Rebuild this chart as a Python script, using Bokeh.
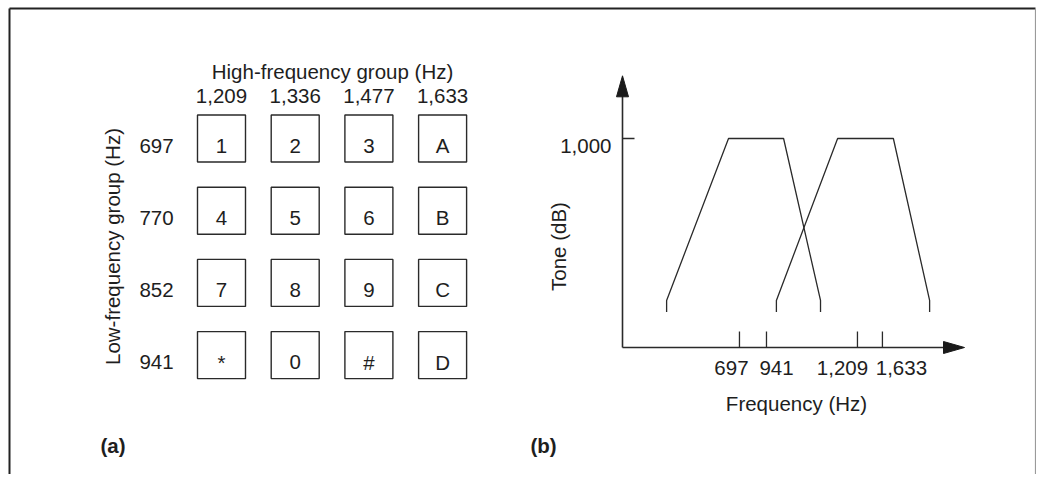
import math
from bokeh.plotting import figure
from bokeh.models import Range1d, ColumnDataSource
from bokeh.embed import file_html
from bokeh.resources import INLINE
from bokeh.core.properties import value

# ---------------- data ----------------
# panel (a): DTMF keypad
high_group_title = "High-frequency group (Hz)"
low_group_title = "Low-frequency group (Hz)"
high_group_labels = ["1,209", "1,336", "1,477", "1,633"]
low_group_labels = ["697", "770", "852", "941"]
keypad_rows = [["1", "2", "3", "A"],
               ["4", "5", "6", "B"],
               ["7", "8", "9", "C"],
               ["*", "0", "#", "D"]]

# panel (b): schematic spectrum (x: 0 = axis origin, 100 = arrow tip;
# level: 0 = frequency axis, 1 = the "1,000" mark)
tone_level_label = "1,000"
freq_tick_labels = ["697", "941", "1,209", "1,633"]
freq_tick_pos = [34.2, 42.1, 68.7, 76.0]
low_band_x = [12.9, 12.9, 31.0, 47.1, 57.9, 57.9]
high_band_x = [45.0, 45.0, 62.9, 79.2, 89.8, 89.8]
band_level = [0.17, 0.225, 1.0, 1.0, 0.225, 0.17]
x_title = "Frequency (Hz)"
y_title = "Tone (dB)"

# ---------------- figure (page-pixel data space) ----------------
W, H = 1036, 474
p = figure(width=W, height=H, output_backend="svg", toolbar_location=None,
           x_range=Range1d(0, W), y_range=Range1d(H, 0),
           min_border=0, outline_line_color=None, background_fill_color="white")
p.axis.visible = False
p.grid.visible = False

FONT = value("Liberation Sans")
TXT = "#1e1e1e"
LINE = "#2a2a2a"
FS = "20.5px"

# outer frame (top, left, right)
p.line([9, W - 1], [8, 8], line_color="#222222", line_width=2)
p.line([9, 9], [8, H], line_color="#222222", line_width=2)
p.line([W - 1, W - 1], [8, H], line_color="#9a9a9a", line_width=1.2)

# ---------- panel (a) ----------
col_x0, col_dx = 221.0, 73.7
row_y0, row_dy = 138.0, 72.2
box_w, box_h = 48, 47
cx = [col_x0 + i * col_dx for i in range(len(high_group_labels))]
ry = [row_y0 + j * row_dy for j in range(len(low_group_labels))]

kx, ky, kt = [], [], []
for j, row in enumerate(keypad_rows):
    for i, k in enumerate(row):
        kx.append(cx[i]); ky.append(ry[j]); kt.append(k)
ks = ColumnDataSource(dict(x=kx, y=ky, t=kt, yt=[v + 7 for v in ky]))
p.rect(x="x", y="y", width=box_w, height=box_h, source=ks,
       fill_color=None, line_color=LINE, line_width=1.4)
p.text(x="x", y="yt", text="t", source=ks, text_font=FONT, text_font_size=FS,
       text_color=TXT, text_align="center", text_baseline="alphabetic")

p.text(x=cx, y=[95] * len(cx), text=high_group_labels, text_font=FONT,
       text_font_size=FS, text_color=TXT, text_align="center",
       text_baseline="alphabetic")
p.text(x=[156] * len(ry), y=[v + 7 for v in ry], text=low_group_labels,
       text_font=FONT, text_font_size=FS, text_color=TXT, text_align="center",
       text_baseline="alphabetic")
p.text(x=[332], y=[71], text=[high_group_title], text_font=FONT,
       text_font_size=FS, text_color=TXT, text_align="center",
       text_baseline="alphabetic")
p.text(x=[112], y=[246], text=[low_group_title], text_font=FONT,
       text_font_size=FS, text_color=TXT, text_align="center",
       text_baseline="alphabetic", angle=math.pi / 2)
p.text(x=[112.5], y=[445], text=["(a)"], text_font=FONT, text_font_size=FS,
       text_font_style="bold", text_color=TXT, text_align="center",
       text_baseline="alphabetic")

# ---------- panel (b) ----------
ox, oy = 622.0, 347.0      # axis origin (px)
sx, sy = 3.42, 209.0       # px per schematic unit / per level unit

def fx(u):
    return ox + u * sx

def fy(a):
    return oy - a * sy

x_tip = fx(100)
y_tip = fy(1.30)

# axes
p.line([ox, ox], [oy, y_tip + 18], line_color=LINE, line_width=1.6)
p.line([ox, x_tip - 18], [oy, oy], line_color=LINE, line_width=1.6)
p.patch([ox, ox - 6, ox + 6], [y_tip, y_tip + 21, y_tip + 21],
        fill_color="#1a1a1a", line_color="#1a1a1a", line_width=1)
p.patch([x_tip, x_tip - 21, x_tip - 21], [oy, oy - 6, oy + 6],
        fill_color="#1a1a1a", line_color="#1a1a1a", line_width=1)

# level mark
p.line([ox, ox + 12], [fy(1.0), fy(1.0)], line_color=LINE, line_width=1.4)
p.text(x=[ox - 11], y=[fy(1.0) + 7], text=[tone_level_label], text_font=FONT,
       text_font_size=FS, text_color=TXT, text_align="right",
       text_baseline="alphabetic")

# frequency ticks
tx = [fx(u) for u in freq_tick_pos]
p.segment(x0=tx, y0=[oy - 16] * len(tx), x1=tx, y1=[oy] * len(tx),
          line_color=LINE, line_width=1.3)
label_dx = [-8, 10, -15, 19]
p.text(x=[t + d for t, d in zip(tx, label_dx)], y=[367] * len(tx),
       text=freq_tick_labels, text_font=FONT, text_font_size=FS,
       text_color=TXT, text_align="center", text_baseline="alphabetic")

# filter bands
p.line([fx(u) for u in low_band_x], [fy(a) for a in band_level],
       line_color=LINE, line_width=1.3)
p.line([fx(u) for u in high_band_x], [fy(a) for a in band_level],
       line_color=LINE, line_width=1.3)

# titles
p.text(x=[796], y=[403], text=[x_title], text_font=FONT, text_font_size=FS,
       text_color=TXT, text_align="center", text_baseline="alphabetic")
p.text(x=[558], y=[246], text=[y_title], text_font=FONT, text_font_size=FS,
       text_color=TXT, text_align="center", text_baseline="alphabetic",
       angle=math.pi / 2)
p.text(x=[543], y=[445], text=["(b)"], text_font=FONT, text_font_size=FS,
       text_font_style="bold", text_color=TXT, text_align="center",
       text_baseline="alphabetic")

open("out.html", "w").write(file_html(p, INLINE))
